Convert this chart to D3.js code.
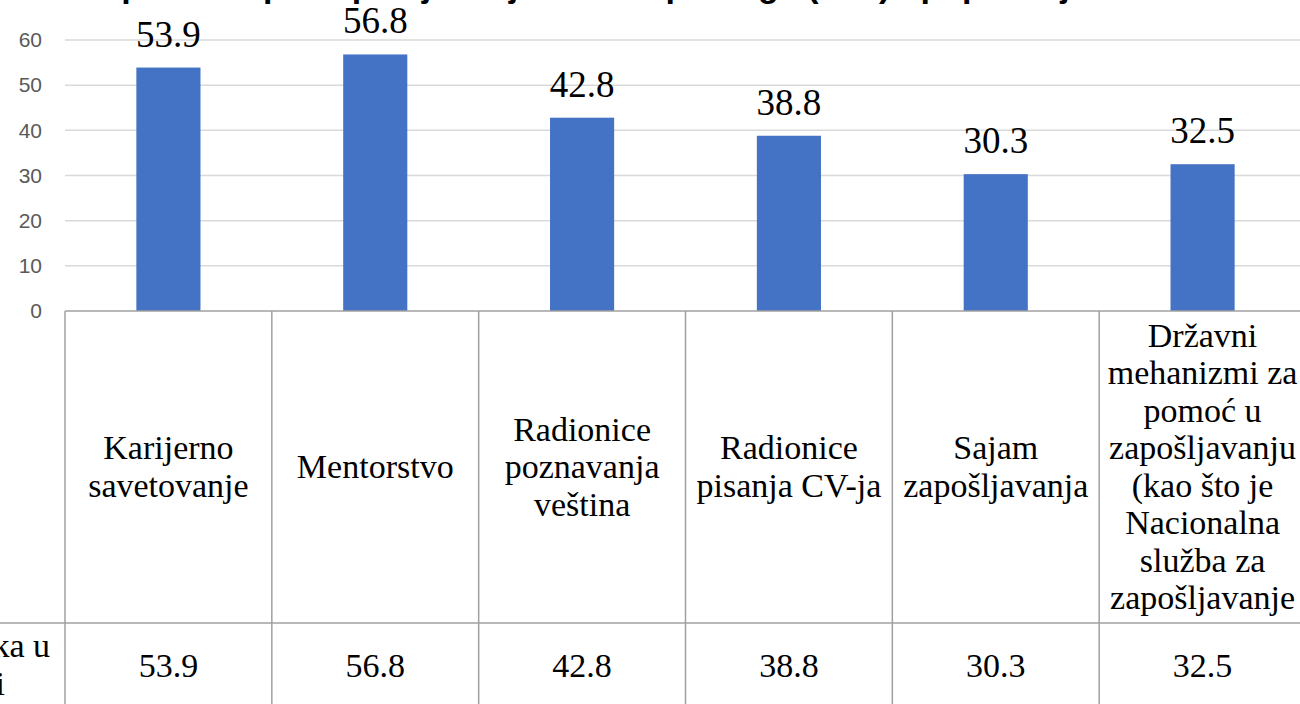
<!DOCTYPE html>
<html>
<head>
<meta charset="utf-8">
<script src="https://cdn.jsdelivr.net/npm/d3@7"></script>
<style>
  html, body { margin: 0; padding: 0; background: #fff; overflow: hidden; }
  svg { display: block; }
</style>
</head>
<body>
<svg id="chart" width="1300" height="704"></svg>
<script>
// chart values
var categories = [
  ["Karijerno", "savetovanje"],
  ["Mentorstvo"],
  ["Radionice", "poznavanja", "veština"],
  ["Radionice", "pisanja CV-ja"],
  ["Sajam", "zapošljavanja"],
  ["Državni", "mehanizmi za", "pomoć u", "zapošljavanju", "(kao što je", "Nacionalna", "služba za", "zapošljavanje"]
];
var values = [53.9, 56.8, 42.8, 38.8, 30.3, 32.5];
var yTicks = [0, 10, 20, 30, 40, 50, 60];
var seriesName = ["Procenat ispitanika u", "Srbiji"];
var title = "Koji vidovi podrške pri zapošljavanju bi vam pomogli (u %) - populacija mladih";

var width = 1300, height = 704;
var plotLeft = 65, plotRight = 1306;
var lineH = 37.5;
var serif = "'Liberation Serif', 'Times New Roman', serif";
var gridColor = "#d9d9d9", tableColor = "#a0a0a0", barColor = "#4472c4";

var svg = d3.select("#chart");

var x = d3.scaleBand()
		.domain(d3.range(values.length))
		.range([plotLeft, plotRight]);

var y = d3.scaleLinear()
		.domain([0, 60])
		.range([311, 40]);

// title, cut off above the picture so only descenders show
svg.append("text")
	.attr("x", -60)
	.attr("y", -3)
	.style("font-family", "'Liberation Sans', Arial, sans-serif")
	.style("font-weight", "bold")
	.style("font-size", "34px")
	.attr("fill", "#000")
	.text(title);

// gridlines
svg.append("g")
	.selectAll("line")
	.data(yTicks.filter(function(d) { return d > 0; }))
	.enter().append("line")
	.attr("x1", plotLeft)
	.attr("x2", width)
	.attr("y1", function(d) { return y(d); })
	.attr("y2", function(d) { return y(d); })
	.attr("stroke", gridColor)
	.attr("stroke-width", 1.5);

// y axis labels
var yAxis = d3.axisLeft(y).tickValues(yTicks).tickSize(0).tickPadding(0);
var gy = svg.append("g")
	.attr("transform", "translate(42,0)")
	.call(yAxis);
gy.select(".domain").remove();
gy.selectAll("text")
	.style("font-family", "'Liberation Sans', Arial, sans-serif")
	.style("font-size", "21px")
	.attr("fill", "#595959");

// bars
var barW = x.bandwidth() * 0.31;
svg.append("g")
	.selectAll("rect")
	.data(values)
	.enter().append("rect")
	.attr("x", function(d, i) { return x(i) + x.bandwidth() / 2 - barW / 2; })
	.attr("y", function(d) { return y(d); })
	.attr("width", barW)
	.attr("height", function(d) { return y(0) - y(d); })
	.attr("fill", barColor);

// data labels
svg.append("g")
	.selectAll("text")
	.data(values)
	.enter().append("text")
	.attr("x", function(d, i) { return x(i) + x.bandwidth() / 2; })
	.attr("y", function(d) { return y(d) - 21; })
	.attr("text-anchor", "middle")
	.style("font-family", serif)
	.style("font-size", "37px")
	.attr("fill", "#000")
	.text(function(d) { return d.toFixed(1); });

// data table
var table = svg.append("g");
var rowLine = 623;

table.append("line")
	.attr("x1", plotLeft).attr("x2", width)
	.attr("y1", y(0)).attr("y2", y(0))
	.attr("stroke", tableColor).attr("stroke-width", 1.5);

table.append("line")
	.attr("x1", 0).attr("x2", width)
	.attr("y1", rowLine).attr("y2", rowLine)
	.attr("stroke", tableColor).attr("stroke-width", 1.5);

table.selectAll(".vline")
	.data(d3.range(values.length + 1))
	.enter().append("line")
	.attr("class", "vline")
	.attr("x1", function(i) { return i < values.length ? x(i) : plotRight; })
	.attr("x2", function(i) { return i < values.length ? x(i) : plotRight; })
	.attr("y1", y(0))
	.attr("y2", height)
	.attr("stroke", tableColor)
	.attr("stroke-width", 1.5);

// category names
var catBase = 478;
var cats = table.selectAll(".cat")
	.data(categories)
	.enter().append("text")
	.attr("class", "cat")
	.attr("text-anchor", "middle")
	.style("font-family", serif)
	.style("font-size", "34px")
	.attr("fill", "#000");

cats.each(function(lines, i) {
	var t = d3.select(this);
	lines.forEach(function(s, k) {
		t.append("tspan")
			.attr("x", x(i) + x.bandwidth() / 2)
			.attr("y", catBase + (k - (lines.length - 1) / 2) * lineH)
			.text(s);
	});
});

// values row
table.selectAll(".val")
	.data(values)
	.enter().append("text")
	.attr("class", "val")
	.attr("x", function(d, i) { return x(i) + x.bandwidth() / 2; })
	.attr("y", 677)
	.attr("text-anchor", "middle")
	.style("font-family", serif)
	.style("font-size", "34px")
	.attr("fill", "#000")
	.text(function(d) { return d.toFixed(1); });

// series name, cut at the left edge
table.selectAll(".series")
	.data(seriesName)
	.enter().append("text")
	.attr("class", "series")
	.attr("x", function(d, k) { return k === 0 ? 50 : 5; })
	.attr("y", function(d, k) { return 657 + k * lineH; })
	.attr("text-anchor", "end")
	.style("font-family", serif)
	.style("font-size", "34px")
	.attr("fill", "#000")
	.text(function(d) { return d; });
</script>
</body>
</html>
